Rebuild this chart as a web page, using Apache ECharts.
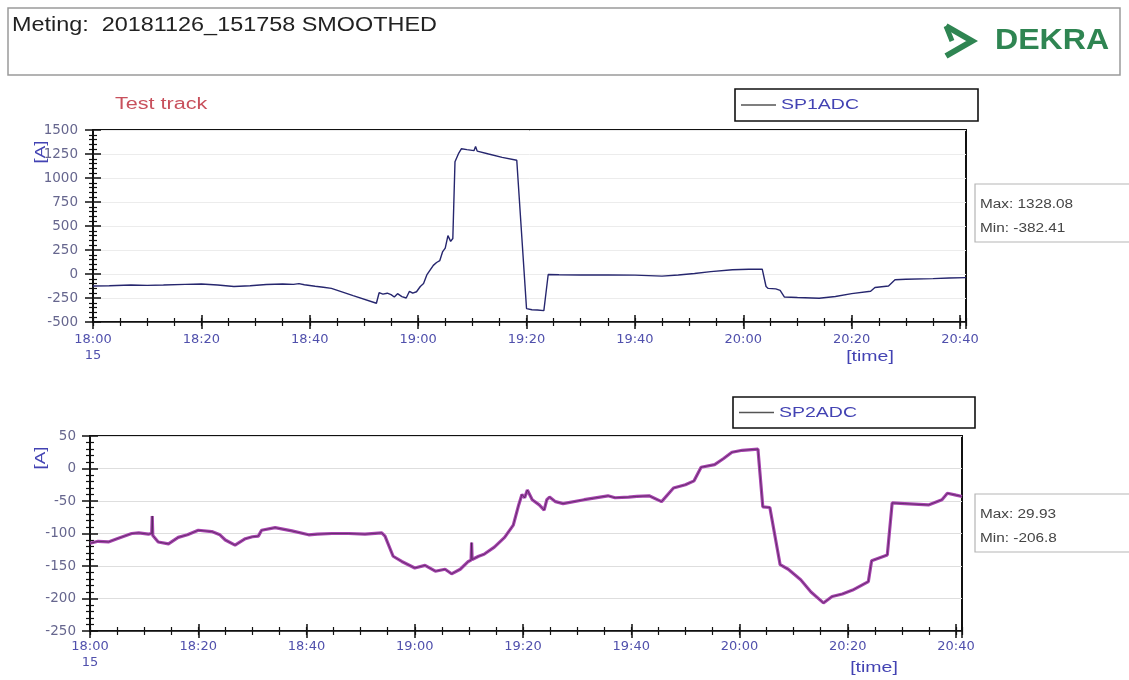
<!DOCTYPE html>
<html>
<head>
<meta charset="utf-8">
<script src="https://cdn.jsdelivr.net/npm/echarts@6/dist/echarts.min.js"></script>
<style>
html,body{margin:0;padding:0;background:#fff;}
#chart{width:1129px;height:680px;}
</style>
</head>
<body>
<div id="chart"></div>
<script>
// ---- data (minutes after 18:00, current in A) ----
const sp1Minutes = [0,3,7,10,13,17,20,23,26,29,32,35,37,38,39,41,42.5,44,48,52.3,52.8,53.5,54.3,55,55.6,56.2,57,57.8,58.4,59,59.7,60.4,61,61.6,62.2,62.8,63.4,64,64.5,65,65.5,66,66.4,66.8,67.5,68,69,70.3,70.6,70.9,73,75.5,78.2,80,81,82,83.2,84,86,90,95,100,105,108,111,114,118,121,123.5,124.2,124.6,126,126.8,127.6,130,134,137,140,143.5,144.3,146.8,148,150,155,158,161.1];
const sp1Values  = [-125,-122,-115,-118,-115,-108,-104,-115,-130,-122,-110,-104,-108,-100,-112,-128,-138,-150,-225,-305,-195,-210,-200,-215,-240,-205,-235,-250,-180,-200,-185,-130,-100,-10,40,90,120,140,230,270,400,340,370,1170,1260,1305,1295,1285,1328,1280,1250,1215,1185,-360,-372,-375,-382,-5,-8,-10,-10,-12,-22,-10,5,25,45,50,50,-130,-150,-155,-170,-240,-245,-252,-235,-205,-180,-140,-125,-60,-55,-48,-42,-38];

const sp2Minutes = [0,1.5,3.4,5,7.7,9,10.8,11.4,11.5,11.6,12.6,14.5,16.3,18,20,22.5,24,25,26.8,28.7,30,31.1,31.7,34.2,37.3,40.4,42,44.7,47.8,50.8,53.9,54.5,56,57.6,60,61.9,63.8,65.6,66.8,68.4,69.9,70.4,70.5,70.6,71.8,72.8,74.7,76.6,78.2,79.2,79.8,80.3,80.8,81.7,83,83.9,84.4,84.9,86,87.4,91.3,95.7,97,99.5,101,103.3,105.6,107.8,110,111.6,112.9,115.4,117,118.6,120.5,123.4,124.3,125.6,127.5,129,131.3,133.2,135.5,137.1,139,140.9,143.8,144.4,147.3,148.2,150.5,154.9,157.4,158.4,160,161.1];
const sp2Values  = [-115,-112,-113,-108,-100,-99,-101,-100,-73,-103,-113,-116,-106,-102,-95,-97,-102,-110,-118,-108,-105,-104,-95,-91,-96,-102,-101,-100,-100,-101,-99,-104,-135,-143,-153,-149,-158,-155,-162,-155,-143,-141,-114,-140,-135,-132,-121,-106,-87,-56,-40,-45,-33,-48,-56,-64,-48,-44,-51,-54,-48,-42,-45,-44,-43,-42,-51,-30,-25,-19,2,6,15,25,28,29.9,-59,-60,-148,-155,-171,-190,-206.8,-197,-193,-187,-174,-142,-133,-53,-54,-56,-48,-38,-41,-43];

const xTickMinutes = [0,20,40,60,80,100,120,140,160];
const xTickLabels  = ['18:00\n15','18:20','18:40','19:00','19:20','19:40','20:00','20:20','20:40'];
const sp1Stats = ['Max: 1328.08','Min: -382.41'];
const sp2Stats = ['Max: 29.93','Min: -206.8'];
const seriesNames = ['SP1ADC','SP2ADC'];
const titleText = 'Meting:  20181126_151758 SMOOTHED';

const FONT = '"Liberation Sans", Arial, sans-serif';
const AXFONT = '"DejaVu Sans", sans-serif';
const X_MAX = 161.1;

function zip(a,b){ return a.map((v,i)=>[v,b[i]]); }
function xLabel(v){
  const i = xTickMinutes.indexOf(Math.round(v*1000)/1000);
  return i >= 0 ? xTickLabels[i] : '';
}

function xAxesFor(grid, margin){
  const base = {type:'value', gridIndex:grid, min:0, max:X_MAX, position:'bottom', splitLine:{show:false}};
  return [
    Object.assign({}, base, {interval:20,
      axisLine:{show:true, onZero:false, lineStyle:{color:'#111', width:1.5}},
      axisTick:{show:true, length:7, lineStyle:{color:'#111', width:1.5}},
      axisLabel:{show:true, margin:margin, color:'#5050ac', fontFamily:AXFONT, fontSize:13, lineHeight:16, formatter:xLabel, showMaxLabel:true, hideOverlap:false}}),
    Object.assign({}, base, {interval:20, axisLine:{show:false, onZero:false},
      axisTick:{show:true, inside:true, length:7, lineStyle:{color:'#111', width:1.5}}, axisLabel:{show:false}}),
    Object.assign({}, base, {interval:5, axisLine:{show:false, onZero:false},
      axisTick:{show:true, length:4, lineStyle:{color:'#111', width:1.2}}, axisLabel:{show:false}}),
    Object.assign({}, base, {interval:5, axisLine:{show:false, onZero:false},
      axisTick:{show:true, inside:true, length:4, lineStyle:{color:'#111', width:1.2}}, axisLabel:{show:false}})
  ];
}
function yAxesFor(grid, min, max, interval, margin, splitColor){
  const base = {type:'value', gridIndex:grid, min:min, max:max, interval:interval, position:'left'};
  return [
    Object.assign({}, base, {
      axisLine:{show:true, onZero:false, lineStyle:{color:'#111', width:1.5}},
      axisTick:{show:true, length:8, lineStyle:{color:'#111', width:1.5}},
      minorTick:{show:true, splitNumber:5, length:4, lineStyle:{color:'#111', width:1.2}},
      axisLabel:{show:true, margin:margin, color:'#66668e', fontFamily:AXFONT, fontSize:13.5, formatter:v=>String(v)},
      splitLine:{show:true, lineStyle:{color:splitColor, width:1}}}),
    Object.assign({}, base, {
      axisLine:{show:false, onZero:false},
      axisTick:{show:true, inside:true, length:8, lineStyle:{color:'#111', width:1.5}},
      minorTick:{show:true, splitNumber:5, length:4, lineStyle:{color:'#111', width:1.2}},
      axisLabel:{show:false}, splitLine:{show:false}})
  ];
}

function legendBox(x, y, w, h, name){
  const cy = y + h/2;
  return [
    {type:'rect', shape:{x:x, y:y, width:w, height:h}, style:{fill:'#fff', stroke:'#111', lineWidth:1.6}, z:10},
    {type:'line', shape:{x1:x+6, y1:cy, x2:x+41, y2:cy}, style:{stroke:'#555', lineWidth:1.6}, z:11},
    {type:'text', x:x+46, y:cy, scaleX:1.3, style:{text:name, fill:'#4343b3', font:'15px '+FONT, textVerticalAlign:'middle'}, z:11}
  ];
}

function statsBox(x, y, lines){
  return [
    {type:'rect', shape:{x:x, y:y, width:170, height:58}, style:{fill:'#fff', stroke:'#b5b5b5', lineWidth:1.2}, z:10},
    {type:'text', x:x+5, y:y+21, scaleX:1.28, style:{text:lines[0], fill:'#444', font:'12px '+FONT, textVerticalAlign:'middle'}, z:11},
    {type:'text', x:x+5, y:y+45, scaleX:1.28, style:{text:lines[1], fill:'#444', font:'12px '+FONT, textVerticalAlign:'middle'}, z:11}
  ];
}

const chart = echarts.init(document.getElementById('chart'), null, {renderer:'canvas'});
const option = {
  animation:false,
  backgroundColor:'#fff',
  grid:[
    {left:93, top:130, width:873, height:192, show:true, borderColor:'#111', borderWidth:2, backgroundColor:'transparent'},
    {left:90, top:436, width:872, height:195, show:true, borderColor:'#111', borderWidth:2, backgroundColor:'transparent'}
  ],
  xAxis: xAxesFor(0, 10).concat(xAxesFor(1, 8)),
  yAxis: yAxesFor(0, -500, 1500, 250, 15, '#ececec').concat(yAxesFor(1, -250, 50, 50, 14, '#dedede')),
  series:[
    {name:seriesNames[0], type:'line', xAxisIndex:0, yAxisIndex:0, data:zip(sp1Minutes, sp1Values),
      showSymbol:false, symbol:'none', lineStyle:{color:'#26266e', width:1.4}, itemStyle:{color:'#26266e'}, z:5},
    {name:seriesNames[1], type:'line', xAxisIndex:4, yAxisIndex:2, data:zip(sp2Minutes, sp2Values),
      showSymbol:false, symbol:'none', lineStyle:{color:'#a844b0', width:3.2}, itemStyle:{color:'#a844b0'}, z:5},
    {name:seriesNames[1], type:'line', xAxisIndex:4, yAxisIndex:2, data:zip(sp2Minutes, sp2Values),
      showSymbol:false, symbol:'none', lineStyle:{color:'#2e1f36', width:0.8, opacity:0.7}, itemStyle:{color:'#2e1f36'}, z:6}
  ],
  graphic:[
    {type:'rect', shape:{x:8, y:8, width:1112, height:67}, style:{fill:'#fff', stroke:'#9a9a9a', lineWidth:1.5}, z:-1},
    {type:'text', x:12, y:25, scaleX:1.17, style:{text:titleText, fill:'#222', font:'20px '+FONT, textVerticalAlign:'middle'}},
    {type:'polyline', shape:{points:[[946,26],[972,41],[946,56]]}, style:{stroke:'#2f8552', lineWidth:6, fill:null, lineJoin:'miter'}},
    {type:'polyline', shape:{points:[[946,26],[952,41]]}, style:{stroke:'#2f8552', lineWidth:5, fill:null}},
    {type:'text', x:995, y:41, scaleX:1.07, style:{text:'DEKRA', fill:'#2f8552', font:'bold 30px '+FONT, textVerticalAlign:'middle'}},
    {type:'text', x:115, y:105, scaleX:1.35, style:{text:'Test track', fill:'#c8505c', font:'16px '+FONT, textVerticalAlign:'middle'}},
    {type:'text', x:41, y:152, rotation:Math.PI/2, scaleX:1.25, style:{text:'[A]', fill:'#4343b3', font:'15px '+FONT, textAlign:'center', textVerticalAlign:'middle'}},
    {type:'text', x:41, y:458, rotation:Math.PI/2, scaleX:1.25, style:{text:'[A]', fill:'#4343b3', font:'15px '+FONT, textAlign:'center', textVerticalAlign:'middle'}},
    {type:'text', x:870, y:357, scaleX:1.3, style:{text:'[time]', fill:'#4343b3', font:'15px '+FONT, textAlign:'center', textVerticalAlign:'middle'}},
    {type:'text', x:874, y:668, scaleX:1.3, style:{text:'[time]', fill:'#4343b3', font:'15px '+FONT, textAlign:'center', textVerticalAlign:'middle'}}
  ].concat(legendBox(735, 89, 243, 32, seriesNames[0]))
   .concat(legendBox(733, 397, 242, 31, seriesNames[1]))
   .concat(statsBox(975, 184, sp1Stats)).concat(statsBox(975, 494, sp2Stats))
};
chart.setOption(option);
</script>
</body>
</html>
